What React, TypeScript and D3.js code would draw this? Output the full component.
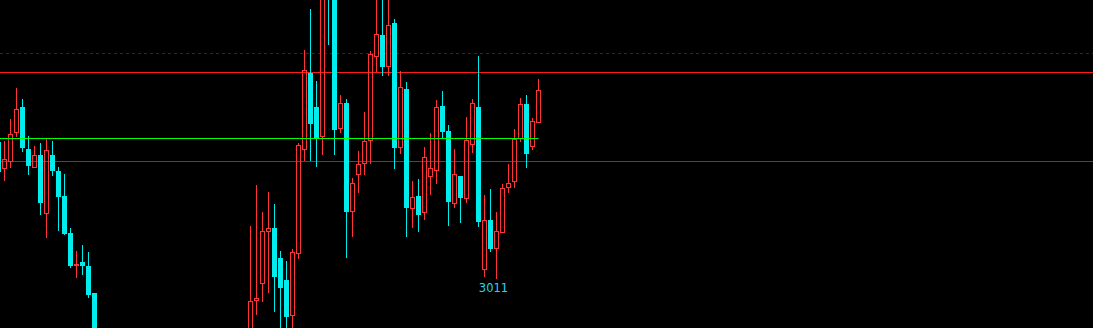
import React from "react";
import * as d3 from "d3";

// Candle values (price units); null = candle outside the visible price window
const opens: (number | null)[] = [
  3148, 3121.7, 3129.3, 3157.7, 3183, 3141, 3123.3, 3135, 3077.3, 3135,
  3119, 3094, 3057, 3025, 3028, 3024, 2997,
  null, null, null, null, null, null, null, null, null, null, null, null, null,
  null, null, null, null, null, null, null, null, null, null, null, null,
  2950, 2989.7, 3006.7, 3059, 3062, 3032, 3010, 2974.7, 3036.7, 3140.7,
  3217.3, 3183, 3153.7, 3320, 3300, 3162.3, 3187, 3079.3, 3116.3, 3126.7,
  3149.7, 3234.3, 3255, 3224.3, 3267, 3143.3, 3201, 3082.3, 3094, 3078.3,
  3114.3, 3119.7, 3184, 3159, 3086.7, 3114, 3091.7, 3145.7, 3183, 3021.3,
  3070, 3042.3, 3058.3, 3102.7, 3108.7, 3152, 3186, 3144.3, 3168.3,
];
const highs: (number | null)[] = [
  3150, 3149, 3171, 3202, 3191, 3154, 3144, 3147, 3151.7, 3149,
  3122.7, 3116, 3062, 3039, 3045, 3038, 2997,
  null, null, null, null, null, null, null, null, null, null, null, null, null,
  null, null, null, null, null, null, null, null, null, null, null, null,
  3064, 3105, 3078.3, 3098.3, 3086, 3039, 3029, 3041, 3147.3, 3240,
  3281, 3209, 3310, 3325, 3310, 3195, 3191, 3112.3, 3139, 3178,
  3239, 3300, 3300, 3300, 3271, 3219, 3208, 3109, 3111, 3143,
  3157, 3190, 3199, 3165, 3141, 3114, 3173, 3191, 3234, 3095,
  3100.7, 3078, 3105.7, 3126, 3161, 3192.3, 3195, 3172, 3211,
];
const lows: (number | null)[] = [
  3114, 3109.3, 3122.3, 3153.3, 3138.3, 3115.3, 3122.3, 3075, 3052.3, 3114.3,
  3059.3, 3055, 3022.3, 3012.3, 3015, 2992.3, 2945,
  null, null, null, null, null, null, null, null, null, null, null, null, null,
  null, null, null, null, null, null, null, null, null, null, null, null,
  2945, 2975, 2988.3, 2997.3, 2978.3, 2955, 2955, 2955, 3031.3, 3128.7,
  3129, 3123.3, 3135, 3245, 3135, 3157.3, 3032.3, 3053.3, 3097.3, 3115.3,
  3126.3, 3217.7, 3214.3, 3214.3, 3121.3, 3136.3, 3053.3, 3062.3, 3058, 3070.3,
  3095.3, 3106.3, 3151.7, 3064.3, 3082.3, 3067.3, 3087.3, 3137.3, 3063.3, 3013.3,
  3038.3, 3011.3, 3058.3, 3097.3, 3102.3, 3148.3, 3122.3, 3140, 3166.7,
];
const closes: (number | null)[] = [
  3118, 3130.7, 3155.7, 3180.7, 3142.3, 3124.3, 3134.7, 3087.3, 3140, 3119.3,
  3093.3, 3056, 3024.3, 3026, 3024.3, 2995.3, 2950,
  null, null, null, null, null, null, null, null, null, null, null, null, null,
  null, null, null, null, null, null, null, null, null, null, null, null,
  2988.7, 2991.7, 3059, 3062, 3013.3, 3002.3, 2973.3, 3037.7, 3145, 3219.7,
  3166.3, 3152.3, 3300, 3300, 3160.3, 3186.7, 3078, 3107, 3126, 3149,
  3236, 3256, 3223.3, 3265, 3142.3, 3202.7, 3082.3, 3093, 3075.3, 3132.7,
  3121.7, 3182.7, 3158, 3088.3, 3115.7, 3092.3, 3149.7, 3186.7, 3068.3, 3069.7,
  3041, 3058.7, 3101.7, 3106.7, 3151.3, 3185.7, 3136.3, 3168.7, 3199.7,
];

// Horizontal reference levels
const dashedLevel = 3236.5;
const upperLevel = 3217.5;
const greenLevel = 3151.5;
const lowerLevel = 3128.5;
const LOW_LOOKBACK = 40;

const W = 1093;
const H = 328;
const UP = "#ff3434";
const DOWN = "#00eded";

export default function App() {
  const n = opens.length;
  const x = d3.scaleLinear().domain([0, n - 1]).range([-1.5, -1.5 + 6 * (n - 1)]);
  const y = d3.scaleLinear().domain([3290, 2962]).range([0, H]);

  const candles = opens.map((o, i) => ({
    i,
    o,
    h: highs[i],
    l: lows[i],
    c: closes[i],
  }));

  // lowest low in lookback window
  let minIdx = -1;
  for (let i = n - LOW_LOOKBACK; i < n; i++) {
    const l = lows[i];
    if (l == null) continue;
    if (minIdx < 0 || l < (lows[minIdx] as number)) minIdx = i;
  }
  const minLow = minIdx >= 0 ? (lows[minIdx] as number) : 0;

  const lastX = x(n - 1);

  return (
    <div style={{ position: "absolute", left: 0, top: 0, width: W, height: H }}>
      <svg width={W} height={H} style={{ display: "block" }}>
        <rect x={0} y={0} width={W} height={H} fill="#000" />
        <line x1={0} x2={W} y1={y(dashedLevel)} y2={y(dashedLevel)} stroke="#8a0000" strokeWidth={1} strokeDasharray="3,3" />
        <line x1={0} x2={W} y1={y(upperLevel)} y2={y(upperLevel)} stroke="#ff1a1a" strokeWidth={1} />
        <line x1={0} x2={W} y1={y(lowerLevel)} y2={y(lowerLevel)} stroke="#c81414" strokeWidth={1} />
        <g>
          {candles.map((d) => {
            if (d.o == null || d.c == null || d.h == null || d.l == null) return null;
            const cx = x(d.i);
            const up = d.c >= d.o;
            const top = Math.round(y(Math.max(d.o, d.c)));
            const bot = Math.round(y(Math.min(d.o, d.c)));
            const wickTop = Math.round(y(d.h));
            const wickBot = Math.round(y(d.l));
            if (up) {
              const hgt = Math.max(bot - top, 0);
              return (
                <g key={d.i}>
                  <line x1={cx} x2={cx} y1={wickTop} y2={top} stroke={UP} strokeWidth={1} />
                  <line x1={cx} x2={cx} y1={bot + 1} y2={wickBot} stroke={UP} strokeWidth={1} />
                  <rect x={cx - 2} y={top + 0.5} width={4} height={hgt} fill="none" stroke={UP} strokeWidth={1} />
                </g>
              );
            }
            return (
              <g key={d.i}>
                <line x1={cx} x2={cx} y1={wickTop} y2={wickBot} stroke={DOWN} strokeWidth={1} />
                <rect x={cx - 2.5} y={top} width={5} height={Math.max(bot - top, 1)} fill={DOWN} />
              </g>
            );
          })}
        </g>
        <line x1={0} x2={lastX} y1={y(greenLevel)} y2={y(greenLevel)} stroke="#00ff00" strokeWidth={1} />
        {minIdx >= 0 && (
          <text
            x={x(minIdx) - 3}
            y={y(minLow) + 13.5}
            textAnchor="middle"
            fill="#2ad4f2"
            fontFamily="'DejaVu Sans', sans-serif"
            fontSize={11.5}
          >
            {Math.round(minLow)}
          </text>
        )}
      </svg>
    </div>
  );
}
